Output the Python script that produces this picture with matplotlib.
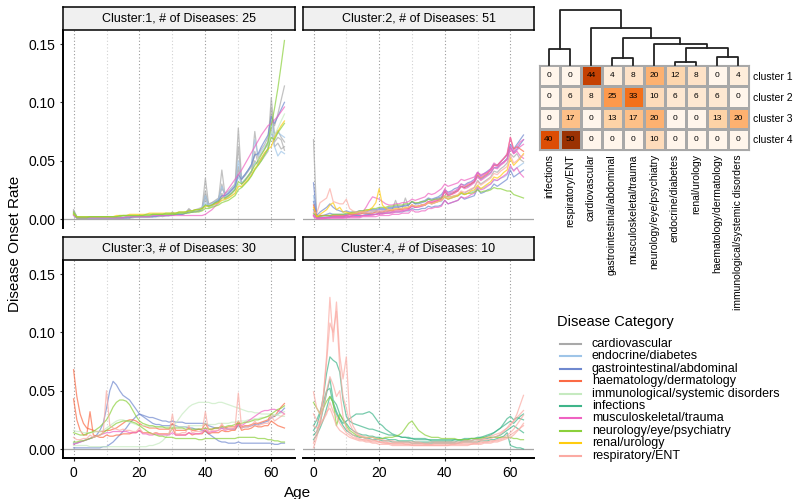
import numpy as np
import matplotlib.pyplot as plt
from matplotlib.lines import Line2D

plt.rcParams['font.family'] = ['Liberation Sans', 'DejaVu Sans']

ages = np.arange(65)

categories = ["cardiovascular", "endocrine/diabetes", "gastrointestinal/abdominal",
              "haematology/dermatology", "immunological/systemic disorders", "infections",
              "musculoskeletal/trauma", "neurology/eye/psychiatry", "renal/urology",
              "respiratory/ENT"]
cat_colors = ["#a9a9a9", "#9fc5e8", "#6f88cf", "#fb6a45", "#c6eac0", "#3fb58a",
              "#ef62c2", "#8bd03b", "#ffcc0f", "#fbaaa3"]

# onset rates, in thousandths, ages 0..64
# ---- cluster 1
c1_cardio_a = [8,2,1,1,1,1,1,1,1,1, 1,1,1,1,1,1,2,1,2,2, 2,2,2,2,2,3,3,3,3,3,
               6,4,4,5,5,9,6,7,8,9, 35,12,14,15,17,42,20,22,25,28,
               78,34,37,41,45,75,52,56,60,64, 104,72,76,70,66]
c1_cardio_b = [6,1,1,1,1,1,1,1,1,1, 1,1,1,1,1,1,1,1,2,2, 2,2,2,2,2,3,3,2,3,3,
               5,4,4,4,5,7,6,6,7,8, 24,10,11,13,15,30,18,20,23,26,
               62,30,33,37,41,58,48,52,56,60, 95,66,70,68,59]
c1_cardio_c = [7,2,1,1,1,1,1,1,1,1, 1,1,1,1,1,1,1,2,2,2, 2,2,2,2,3,3,3,3,3,4,
               4,5,5,5,6,8,7,8,9,10, 20,13,14,16,18,26,22,24,27,30,
               45,35,38,42,46,55,55,60,64,70, 88,80,90,102,114]
c1_cardio_d = [5,1,1,1,1,1,1,1,1,1, 1,1,1,1,1,1,1,1,1,2, 2,2,2,2,2,2,2,3,3,3,
               4,4,4,4,5,6,6,7,7,8, 18,10,11,13,14,22,17,19,22,25,
               42,30,33,36,40,50,46,50,54,58, 78,62,65,60,62]
c1_endo_a = [4,1,1,1,1,1,1,1,1,1, 1,1,2,2,2,2,2,2,2,2, 2,2,2,3,3,3,3,3,3,3,
             4,4,5,5,5,6,7,7,8,9, 14,11,12,14,16,20,19,21,23,26,
             36,31,34,37,41,48,48,52,56,60, 75,62,54,58,56]
c1_endo_b = [3,1,1,1,1,1,1,1,1,1, 1,1,1,1,1,1,1,2,2,2, 2,2,2,2,2,3,3,3,3,3,
             4,4,4,5,5,7,6,7,8,9, 20,12,13,15,17,28,21,23,26,29,
             50,35,38,42,46,68,54,58,62,66, 85,70,74,72,70]
c1_neuro_a = [6,2,2,2,2,2,2,2,2,2, 2,2,2,2,3,3,3,3,3,3, 3,3,4,4,4,4,4,4,5,5,
              5,5,6,6,6,7,7,8,8,9, 12,11,12,14,15,18,18,20,22,25,
              32,30,33,37,41,46,50,55,60,66, 80,95,112,132,153]
c1_neuro_b = [5,1,1,1,1,2,2,2,2,2, 2,2,2,2,2,3,3,3,3,3, 3,3,3,3,4,4,4,4,4,4,
              4,4,5,5,5,5,6,6,6,7, 9,9,10,11,12,14,15,16,18,20,
              25,27,30,33,37,42,46,50,55,60, 70,68,74,78,82]
c1_musc = [3,1,1,1,1,1,1,1,1,1, 1,1,1,1,1,1,2,2,2,2, 2,2,2,2,3,3,3,3,3,3,
           3,3,3,3,3,3,3,3,3,3, 4,6,8,11,14,18,22,26,30,34,
           38,42,47,52,57,62,67,72,76,80, 82,85,88,92,96]
c1_renal = [4,2,2,2,2,2,2,2,2,2, 2,2,2,3,3,3,3,4,4,4, 4,4,4,5,5,5,5,5,5,5,
            5,5,6,6,6,7,7,8,8,9, 11,11,12,13,14,16,17,18,20,22,
            28,28,31,34,38,43,47,52,57,60, 62,70,75,80,84]
c1_gastro = [4,1,1,1,1,1,1,1,1,1, 1,1,1,1,1,1,1,1,2,2, 2,2,2,2,2,2,3,3,3,3,
             3,4,4,4,5,6,6,7,7,8, 12,11,12,14,16,20,20,22,25,28,
             38,34,38,42,47,55,56,62,67,72, 88,82,88,94,100]
c1_immuno = [5,2,2,2,2,2,2,2,2,2, 2,2,2,2,2,3,3,3,3,3, 3,3,3,3,4,4,4,4,4,4,
             5,5,5,5,6,7,7,7,8,8, 12,10,11,12,13,16,16,18,20,22,
             30,27,30,33,37,43,46,50,55,60, 75,72,78,84,90]

# ---- cluster 2
c2_gastro_a = [31,2,3,3,4,5,4,4,4,4, 4,5,5,5,6,6,6,7,7,7, 8,8,8,9,9,10,10,11,11,12,
               15,13,14,15,16,18,17,18,19,21, 25,23,24,26,27,30,29,31,32,34,
               40,37,39,41,43,47,46,49,52,55, 64,60,64,68,72]
c2_gastro_b = [15,3,6,8,10,13,10,8,7,6, 7,6,6,6,7,7,7,8,8,8, 9,9,9,10,10,11,11,11,12,12,
               15,13,13,14,15,17,16,17,18,19, 23,21,22,23,25,28,27,28,30,32,
               37,34,36,38,40,44,44,47,49,52, 62,57,60,64,68]
c2_gastro_c = [8,1,1,1,1,2,2,2,2,2, 3,2,3,3,3,3,4,4,4,4, 5,5,5,5,6,6,6,6,7,7,
               9,8,8,9,9,11,10,11,11,12, 16,13,14,15,16,19,17,18,19,20,
               26,22,23,25,26,30,28,30,32,34, 42,36,38,40,42]
c2_musc_a = [3,1,1,1,1,1,2,2,2,2, 3,3,3,4,5,6,10,15,19,18, 17,15,13,12,12,13,13,14,14,15,
             17,16,17,18,19,22,21,22,24,26, 30,28,29,30,31,34,33,34,35,36,
             40,38,39,40,42,46,45,47,49,51, 60,56,59,62,64]
c2_musc_b = [4,1,1,1,1,1,1,1,1,1, 1,2,2,2,2,3,3,3,4,4, 5,5,5,6,6,7,7,7,8,8,
             11,10,10,11,12,14,14,15,16,17, 24,20,21,22,24,28,26,27,29,31,
             36,33,35,37,39,44,43,46,48,51, 62,56,58,54,52]
c2_musc_c = [2,0,0,0,1,1,1,1,1,1, 1,1,1,1,1,2,2,2,2,2, 3,3,3,3,4,4,4,5,5,5,
             8,6,6,7,7,9,9,10,10,11, 16,13,14,15,16,19,18,19,21,22,
             27,25,26,28,30,34,33,35,37,39, 46,41,44,39,36]
c2_musc_d = [3,1,1,1,1,1,1,1,1,1, 2,2,2,2,2,3,3,3,3,4, 4,4,5,5,5,6,6,7,7,8,
             12,10,11,12,13,15,15,16,17,18, 26,22,23,24,26,30,28,30,31,33,
             40,36,38,40,43,48,46,49,52,56, 70,58,62,66,68]
c2_cardio = [68,1,1,1,2,2,2,2,2,2, 2,2,3,3,3,3,3,4,4,4, 5,5,6,7,8,16,9,9,18,10,
             11,10,11,11,12,14,13,14,15,16, 19,17,18,19,20,23,22,24,25,27,
             33,30,32,34,36,41,40,43,45,48, 56,53,56,51,49]
c2_resp = [6,5,14,16,18,26,15,14,13,13, 17,9,7,6,6,6,6,6,7,7, 7,7,7,8,8,8,9,9,9,10,
           12,11,11,12,12,14,13,14,15,16, 20,18,19,20,21,24,23,24,26,27,
           32,29,31,33,35,39,38,41,43,45, 55,48,50,53,55]
c2_renal = [10,2,4,6,8,12,14,8,10,6, 6,5,5,5,6,6,7,8,10,14, 26,12,9,8,8,9,9,9,10,10,
            12,11,11,12,12,14,13,14,15,16, 19,17,18,19,20,23,21,22,24,25,
            29,26,28,30,32,36,35,37,40,42, 52,46,49,52,56]
c2_neuro = [5,2,2,3,3,3,4,4,4,4, 5,5,6,6,7,7,8,8,9,9, 10,10,10,11,11,12,12,12,13,13,
            15,14,14,15,15,17,16,17,17,18, 20,19,19,20,20,22,21,22,22,23,
            25,23,24,24,25,27,26,26,25,24, 24,21,20,19,18]
c2_haem = [12,2,3,3,3,3,3,3,3,3, 3,4,4,4,4,5,5,5,5,6, 6,6,7,7,7,8,8,8,9,9,
           12,10,11,12,12,15,14,15,16,17, 24,20,21,23,24,28,27,29,30,32,
           38,35,37,39,42,46,46,49,52,55, 70,60,62,60,58]
c2_endo = [20,2,2,2,3,3,3,3,3,3, 4,4,4,4,5,5,5,5,6,6, 6,7,7,7,8,8,8,9,9,9,
           12,11,11,12,12,14,13,14,15,15, 19,17,18,19,20,22,21,22,23,24,
           28,26,27,29,30,33,33,35,36,38, 44,42,44,46,48]

# ---- cluster 3
c3_haem_a = [68,45,30,22,18,17,16,15,15,15, 16,16,17,18,20,22,24,25,25,24, 22,20,19,18,18,18,17,17,17,17,
             22,16,16,16,16,18,16,16,17,17, 22,17,17,18,18,20,18,19,19,19,
             24,19,20,20,21,22,22,23,24,25, 30,28,32,36,39]
c3_haem_b = [43,25,16,12,12,32,12,11,10,10, 12,11,11,12,12,13,13,13,14,14, 16,14,14,14,13,14,13,13,13,13,
             18,12,12,12,12,14,12,13,13,13, 16,13,14,14,14,16,15,15,16,16,
             22,16,17,17,18,20,19,19,20,20, 24,22,20,19,18]
c3_gastro_a = [5,5,6,7,8,9,10,12,16,22, 35,50,58,55,50,46,44,42,38,34, 30,29,28,27,27,26,25,24,24,23,
               24,23,23,23,22,22,22,22,22,22, 22,20,19,18,18,18,18,17,17,17,
               20,18,19,19,20,21,21,22,23,24, 27,28,30,32,35]
c3_gastro_b = [1,1,1,1,1,1,1,1,1,2, 2,4,6,9,12,15,18,22,25,28, 30,28,26,24,22,21,21,20,20,20,
               21,20,19,19,19,18,18,17,17,16, 15,13,11,9,7,6,6,5,5,5,
               6,5,5,5,5,5,5,5,5,5, 5,4,4,5,5]
c3_resp = [10,8,8,9,9,12,10,11,12,14, 50,20,18,17,16,17,16,16,15,15, 18,14,14,13,13,14,13,13,13,13,
           30,13,13,14,14,20,14,15,15,15, 32,15,16,16,16,22,17,17,17,18,
           48,18,19,19,20,24,20,21,22,22, 28,24,26,28,30]
c3_neuro_a = [14,13,12,12,13,14,15,17,19,22, 25,30,36,40,42,42,41,38,33,28, 24,22,21,20,20,19,19,19,18,18,
              18,18,18,18,17,17,17,17,17,17, 18,17,17,18,18,19,19,20,20,21,
              22,22,23,23,24,25,25,26,27,28, 30,32,34,35,37]
c3_neuro_b = [6,6,7,7,8,9,10,11,12,14, 16,18,20,22,23,24,24,24,23,22, 20,18,16,14,13,12,11,11,10,10,
              10,9,9,9,9,9,9,9,8,8, 9,9,9,9,9,9,9,9,9,9,
              10,10,10,10,10,10,9,9,9,8, 8,7,7,6,6]
c3_musc = [4,5,6,7,8,9,10,11,12,13, 14,14,15,15,15,15,15,14,14,14, 16,13,13,12,12,13,12,12,12,12,
           14,12,12,12,12,14,13,13,13,14, 18,14,15,15,16,18,16,17,17,18,
           22,20,22,24,26,28,30,32,33,33, 34,34,33,32,30]
c3_immuno_a = [3,3,3,3,3,2,2,2,2,2, 2,2,2,2,2,2,2,2,2,2, 2,2,2,3,3,4,5,7,10,14,
               18,22,26,30,33,36,38,39,40,40, 40,40,39,39,40,40,39,38,37,36,
               35,34,33,32,32,31,31,30,30,30, 30,29,29,28,28]
c3_immuno_b = [16,15,15,14,14,14,14,15,15,16, 18,20,22,24,25,25,24,23,22,21, 20,20,20,19,19,19,19,19,19,19,
               20,19,19,19,19,20,20,20,20,20, 22,21,21,21,22,22,22,22,23,23,
               24,24,24,25,25,26,26,27,27,28, 28,29,30,31,32]

# ---- cluster 4
c4_resp_a = [49,35,30,45,80,130,92,126,80,60, 79,30,20,15,12,11,10,10,10,9, 8,8,7,7,7,6,6,6,6,6,
             6,6,6,5,5,5,6,6,6,6, 6,6,6,6,6,6,7,7,7,8,
             8,8,9,10,11,12,13,14,16,18, 20,24,30,38,46]
c4_resp_b = [1,10,22,45,75,108,100,118,70,45, 35,22,16,13,11,10,9,8,8,7, 6,6,5,5,5,5,5,5,4,4,
             4,4,4,4,4,4,4,5,5,5, 5,5,5,5,5,5,6,6,6,6,
             7,7,8,8,9,10,11,13,15,18, 22,24,27,30,33]
c4_resp_c = [30,25,22,26,32,35,28,20,16,14, 12,10,9,8,7,7,6,6,5,5, 4,4,4,4,3,3,3,3,3,3,
             3,3,3,3,3,3,3,3,3,3, 3,3,4,4,4,4,4,4,4,5,
             5,5,6,6,6,7,7,8,9,10, 12,14,16,18,20]
c4_resp_d = [5,15,25,35,50,62,55,45,50,28, 18,14,12,10,9,8,8,7,7,7, 6,6,6,5,5,5,5,5,5,5,
             5,5,5,5,4,4,4,4,4,4, 4,4,4,4,5,5,5,5,5,5,
             5,6,6,6,7,7,8,9,10,12, 14,17,21,25,29]
c4_resp_e = [20,18,20,25,30,40,32,28,22,18, 14,12,10,9,8,8,7,7,6,6, 6,5,5,5,4,4,4,4,4,4,
             3,3,3,3,3,3,3,3,3,3, 3,3,3,3,3,3,3,3,4,4,
             4,4,5,5,5,6,6,7,8,9, 10,12,15,18,22]
c4_inf_a = [16,20,30,45,65,79,76,74,66,42, 28,24,22,21,20,19,18,17,17,16, 15,14,13,12,12,11,11,10,10,10,
            9,9,9,9,9,8,8,8,8,8, 8,8,8,8,8,8,9,9,9,9,
            10,10,11,12,13,14,16,18,20,22, 24,22,25,28,30]
c4_inf_b = [12,15,22,35,48,60,42,38,30,25, 22,18,16,14,13,12,12,11,11,10, 10,9,9,8,8,8,7,7,7,7,
            7,6,6,6,6,6,6,6,6,6, 6,6,6,6,7,7,7,7,7,8,
            8,8,9,9,10,10,11,12,14,16, 18,20,18,16,14]
c4_inf_c = [8,12,18,25,35,45,40,32,26,22, 24,26,28,30,30,30,31,32,30,26, 22,20,17,15,13,12,11,10,10,9,
            9,8,8,8,8,8,7,7,7,7, 7,7,7,8,8,8,8,8,9,9,
            9,10,10,11,12,14,16,18,22,26, 28,25,27,26,25]
c4_inf_d = [20,25,32,40,50,52,38,30,25,20, 16,14,12,11,10,10,9,9,8,8, 8,7,7,7,6,6,6,6,6,6,
            5,5,5,5,5,5,5,5,5,5, 5,5,5,5,5,6,6,6,6,6,
            6,7,7,7,8,8,9,10,11,14, 3,2,1,1,0]
c4_neuro = [40,35,30,35,41,45,40,20,30,25, 20,16,14,12,11,10,10,10,10,9, 9,9,10,10,10,11,12,14,18,22,
            24,20,16,14,12,11,10,10,10,9, 9,9,9,9,8,8,8,8,9,9,
            9,9,10,10,10,10,10,10,10,10, 10,9,9,8,8]

cluster1 = [("cardiovascular", c1_cardio_a), ("cardiovascular", c1_cardio_b),
            ("cardiovascular", c1_cardio_c), ("cardiovascular", c1_cardio_d),
            ("endocrine/diabetes", c1_endo_a), ("endocrine/diabetes", c1_endo_b),
            ("gastrointestinal/abdominal", c1_gastro), ("immunological/systemic disorders", c1_immuno),
            ("musculoskeletal/trauma", c1_musc), ("renal/urology", c1_renal),
            ("neurology/eye/psychiatry", c1_neuro_a), ("neurology/eye/psychiatry", c1_neuro_b)]
cluster2 = [("cardiovascular", c2_cardio), ("endocrine/diabetes", c2_endo),
            ("gastrointestinal/abdominal", c2_gastro_a), ("gastrointestinal/abdominal", c2_gastro_b),
            ("gastrointestinal/abdominal", c2_gastro_c), ("haematology/dermatology", c2_haem),
            ("musculoskeletal/trauma", c2_musc_a), ("musculoskeletal/trauma", c2_musc_b),
            ("musculoskeletal/trauma", c2_musc_c), ("musculoskeletal/trauma", c2_musc_d),
            ("neurology/eye/psychiatry", c2_neuro), ("renal/urology", c2_renal),
            ("respiratory/ENT", c2_resp)]
cluster3 = [("gastrointestinal/abdominal", c3_gastro_a), ("gastrointestinal/abdominal", c3_gastro_b),
            ("haematology/dermatology", c3_haem_a), ("haematology/dermatology", c3_haem_b),
            ("immunological/systemic disorders", c3_immuno_a), ("immunological/systemic disorders", c3_immuno_b),
            ("musculoskeletal/trauma", c3_musc), ("neurology/eye/psychiatry", c3_neuro_a),
            ("neurology/eye/psychiatry", c3_neuro_b), ("respiratory/ENT", c3_resp)]
cluster4 = [("infections", c4_inf_a), ("infections", c4_inf_b), ("infections", c4_inf_c),
            ("infections", c4_inf_d), ("neurology/eye/psychiatry", c4_neuro),
            ("respiratory/ENT", c4_resp_a), ("respiratory/ENT", c4_resp_b), ("respiratory/ENT", c4_resp_c),
            ("respiratory/ENT", c4_resp_d), ("respiratory/ENT", c4_resp_e)]
n_diseases = [25, 51, 30, 10]

# heatmap: % of each cluster's diseases per category
heat_cols = ["infections", "respiratory/ENT", "cardiovascular", "gastrointestinal/abdominal",
             "musculoskeletal/trauma", "neurology/eye/psychiatry", "endocrine/diabetes",
             "renal/urology", "haematology/dermatology", "immunological/systemic disorders"]
heat_rows = ["cluster 1", "cluster 2", "cluster 3", "cluster 4"]
pct_c1 = [0, 0, 44, 4, 8, 20, 12, 8, 0, 4]
pct_c2 = [0, 6, 8, 25, 33, 10, 6, 6, 6, 0]
pct_c3 = [0, 17, 0, 13, 17, 20, 0, 0, 13, 20]
pct_c4 = [40, 50, 0, 0, 0, 10, 0, 0, 0, 0]

# column dendrogram: merges of nodes (leaves 0-9, new nodes from 10), heights
dend_left = [0, 3, 6, 8, 12, 5, 11, 2, 10]
dend_right = [1, 4, 7, 9, 13, 14, 15, 16, 17]
dend_height = [16, 7, 3, 8, 17, 21, 27, 37, 55]

W, H = 800, 499
fig = plt.figure(figsize=(W / 100, H / 100), dpi=100)


def px_axes(x0, y0, x1, y1):
    return fig.add_axes([x0 / W, 1 - y1 / H, (x1 - x0) / W, (y1 - y0) / H])


color_of = dict(zip(categories, cat_colors))
panels = [(63, 30, 295, 228), (303, 30, 534, 228), (63, 260, 295, 458), (303, 260, 534, 458)]
clusters = [cluster1, cluster2, cluster3, cluster4]

for k, (box, lines) in enumerate(zip(panels, clusters)):
    x0, y0, x1, y1 = box
    ax = px_axes(x0, y0, x1, y1)
    ax.set_xlim(-3.2, 67.2)
    ax.set_ylim(-0.0077, 0.162)
    for v in (10, 30, 50):
        ax.axvline(v, color='#d2d2d2', ls=(0, (1, 2)), lw=0.8, zorder=0)
    for v in (0, 20, 40, 60):
        ax.axvline(v, color='#9a9a9a', ls=(0, (1, 2)), lw=0.8, zorder=0)
    ax.axhline(0, color='#a6a6a6', lw=0.9, zorder=0)
    for cat, vals in lines:
        ax.plot(ages, np.array(vals) / 1000, color=color_of[cat], lw=0.9, alpha=0.7)
    for s in ('top', 'right'):
        ax.spines[s].set_visible(False)
    ax.spines['left'].set_visible(k % 2 == 0)
    ax.spines['bottom'].set_visible(k >= 2)
    for s in ('left', 'bottom'):
        ax.spines[s].set_linewidth(1.4)
    ax.set_xticks([0, 20, 40, 60])
    ax.set_yticks([0, 0.05, 0.10, 0.15], ['0.00', '0.05', '0.10', '0.15'])
    ax.tick_params(labelsize=10, length=2.5, width=0.8, pad=3, colors='#333333', labelcolor='black')
    if k % 2:
        ax.tick_params(axis='y', left=False, labelleft=False)
    if k < 2:
        ax.tick_params(axis='x', bottom=False, labelbottom=False)

    st = px_axes(x0, y0 - 23, x1, y0)
    st.set_facecolor('#f0f0f0')
    st.set_xticks([])
    st.set_yticks([])
    for s in st.spines.values():
        s.set_linewidth(1.1)
    st.text(0.5, 0.5, f"Cluster:{k + 1}, # of Diseases: {n_diseases[k]}",
            ha='center', va='center', fontsize=9, transform=st.transAxes)

fig.text(15 / W, 1 - 244 / H, 'Disease Onset Rate', rotation=90, ha='center', va='center', fontsize=11)
fig.text(298 / W, 1 - 493 / H, 'Age', ha='center', va='center', fontsize=11)

# heatmap
pct = np.array([pct_c1, pct_c2, pct_c3, pct_c4])
axh = px_axes(538.5, 65, 748.5, 150)
axh.pcolormesh(pct, cmap='Oranges', vmin=0, vmax=55, edgecolors='#a8a8a8', linewidth=1)
axh.set_xlim(0, 10)
axh.set_ylim(4, 0)
for i in range(pct.shape[0]):
    for j in range(pct.shape[1]):
        axh.text(j + 0.5, i + 0.5, str(pct[i, j]), ha='center', va='center', fontsize=6)
axh.set_xticks(np.arange(10) + 0.5, heat_cols, rotation=90, fontsize=7.5)
axh.set_yticks(np.arange(4) + 0.5, heat_rows, fontsize=7.5)
axh.yaxis.tick_right()
axh.tick_params(length=0, pad=3)
for s in axh.spines.values():
    s.set_color('#a8a8a8')

# dendrogram above the heatmap
axd = px_axes(538.5, 8, 748.5, 65)
axd.set_xlim(0, 10)
axd.set_ylim(0, 57)
axd.axis('off')
pos = {i: i + 0.5 for i in range(10)}
hgt = {i: 0 for i in range(10)}
for n, (a, b, h) in enumerate(zip(dend_left, dend_right, dend_height)):
    axd.plot([pos[a], pos[a], pos[b], pos[b]], [hgt[a], h, h, hgt[b]],
             color='#222222', lw=1.3, clip_on=False)
    pos[10 + n] = (pos[a] + pos[b]) / 2
    hgt[10 + n] = h

# legend
fig.text(557 / W, 1 - 322 / H, 'Disease Category', ha='left', va='center', fontsize=10.5)
for i, (cat, col) in enumerate(zip(categories, cat_colors)):
    y = 1 - (344 + i * 12.4) / H
    fig.add_artist(Line2D([560 / W, 581 / W], [y, y], color=col, lw=1.5))
    fig.text(592 / W, y, cat, ha='left', va='center', fontsize=9)

fig.savefig('out.png', dpi=100)
